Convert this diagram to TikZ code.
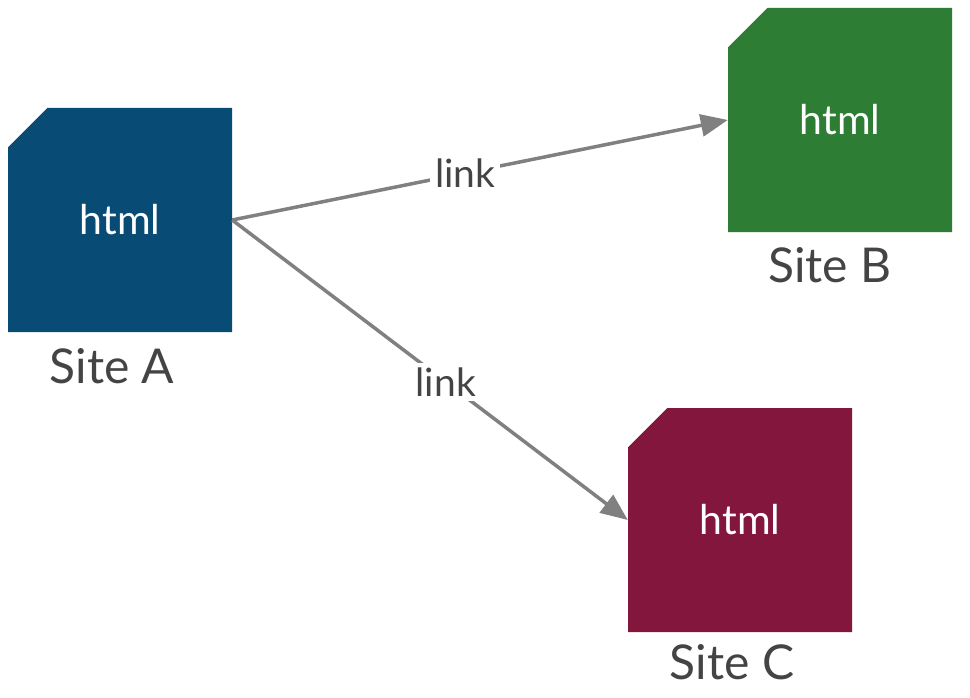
\documentclass[tikz,border=0pt]{standalone}
\usepackage{fontspec}
\setmainfont{Lato}
\usetikzlibrary{shapes.misc,positioning,arrows.meta}
\definecolor{siteblue}{RGB}{8,75,116}
\definecolor{sitegreen}{RGB}{46,125,53}
\definecolor{sitered}{RGB}{131,22,60}
\definecolor{linkgray}{RGB}{128,128,128}
\definecolor{labelgray}{RGB}{68,68,68}
\tikzset{
  page/.style={chamfered rectangle, chamfered rectangle corners=north west,
    chamfered rectangle xsep=24pt, chamfered rectangle ysep=24pt,
    minimum width=224pt, minimum height=224pt, inner sep=0pt, draw=none,
    text=white, font=\fontsize{41}{46}\selectfont},
  sitename/.style={text=labelgray, font=\fontsize{48}{52}\selectfont},
  link/.style={line width=3.5pt, draw=linkgray, -{Triangle[length=27pt,width=22pt]}},
  linklabel/.style={fill=white, text=labelgray, inner sep=5pt, font=\fontsize{39}{44}\selectfont}
}
\begin{document}
\begin{tikzpicture}[x=1pt,y=-1pt]
\useasboundingbox (0,0) rectangle (970,698);
% sites
\node[page, fill=siteblue] (siteA) at (120,220) {html};
\node[page, fill=sitegreen] (siteB) at (840,120) {html};
\node[page, fill=sitered] (siteC) at (740,520) {html};
\node[sitename] at (112,366) {Site A};
\node[sitename] at (830,265) {Site B};
\node[sitename] at (732,662) {Site C};
% links
\draw[link] (siteA.east) -- node[linklabel, pos=0.47] {link} (siteB.west);
\draw[link] (siteA.east) -- node[linklabel, pos=0.54] {link} (siteC.west);
\end{tikzpicture}
\end{document}
